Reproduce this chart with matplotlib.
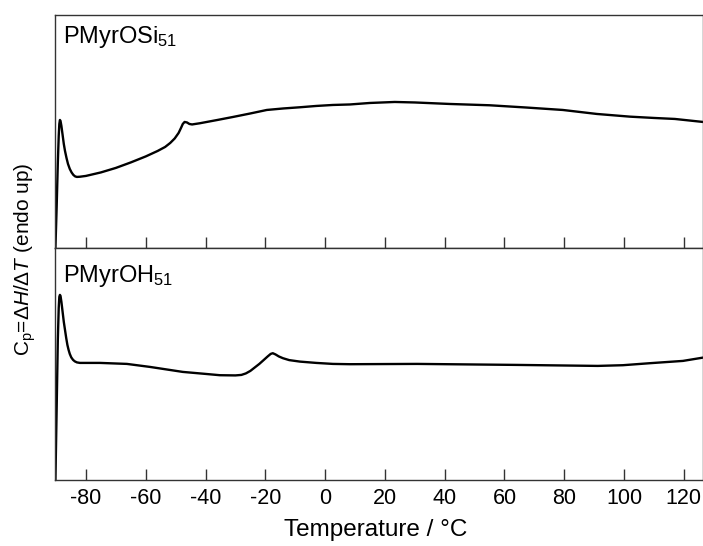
import numpy as np
import matplotlib
matplotlib.use("Agg")
import matplotlib.pyplot as plt

plt.rcParams['font.family'] = ['Liberation Sans', 'DejaVu Sans']
plt.rcParams['mathtext.fontset'] = 'custom'
plt.rcParams['mathtext.rm'] = 'Liberation Sans'
plt.rcParams['mathtext.it'] = 'Liberation Sans:italic'
plt.rcParams['axes.unicode_minus'] = False

# PMyrOSi51 trace (temperature in C, Cp in arbitrary units)
si_temp = [-90.2, -89.8, -89.4, -89.1, -88.9, -88.7, -88.5, -88.2, -87.8, -87.4, -87.0,
           -86.5, -86.0, -85.4, -84.8, -84.2, -83.6, -83.0, -82.0,
           -80.0, -75.0, -70.0, -65.0, -60.0, -56.0, -53.5, -51.8, -50.3, -49.0, -48.2,
           -47.6, -47.0, -46.2, -45.4, -44.5, -41.9, -36.0, -30.8, -25.0, -19.5, -14.0, -8.4, -3.0,
           2.6, 8.3, 15.0, 23.3, 30.0, 41.7, 55.0, 67.0, 79.5, 90.9, 102.0, 110.0,
           117.0, 126.4]
si_cp = [0, 40, 85, 112, 124, 128, 127, 122, 113, 104, 97,
         90, 84, 79, 75.5, 73, 71.5, 71, 71.2,
         72, 75.5, 80, 85.5, 91.5, 97, 101, 105, 109.5, 115, 120,
         124, 126, 125.5, 124, 123.5, 124.7, 128, 131, 134.5, 138, 139.5, 140.7, 142,
         143, 143.5, 145, 146, 145.5, 144, 142.7, 140.5, 138, 134, 131.3, 130,
         129, 126]

# PMyrOH51 trace
oh_temp = [-90.2, -89.8, -89.4, -89.1, -88.9, -88.7, -88.5, -88.2, -87.8, -87.4, -87.0,
           -86.6, -86.2, -85.8, -85.4, -84.9, -84.3, -83.7, -83.0,
           -82.0, -75.3, -66.3, -58.6, -47.6, -40.0, -35.2, -30.0, -28.0, -26.5, -25.0, -23.5,
           -22.0, -20.5, -19.2, -18.2, -17.5, -16.6, -15.5, -14.1, -12.0, -8.4, -3.0, 2.6, 8.3,
           30.7, 64.1, 91.2, 99.6, 108.6, 119.7, 126.4]
oh_cp = [0, 70, 140, 172, 183, 185, 184, 178, 168, 158, 150,
         142, 135, 130, 126, 122.5, 120, 118.5, 117.5,
         117, 117, 116, 113, 108, 106, 104.7, 104.5, 105, 106.5, 109, 112.5,
         116, 120, 123.5, 126, 126.7, 125.5, 123.5, 121.7, 119.8, 118.3, 117, 116, 115.7,
         116, 115, 114, 114.7, 116.7, 119, 122.3]

panel_labels = ['PMyrOSi$_{51}$', 'PMyrOH$_{51}$']
xticks = [-80, -60, -40, -20, 0, 20, 40, 60, 80, 100, 120]

fig = plt.figure(figsize=(7.03, 5.46), dpi=100)
ax_top = fig.add_axes([0.078, 0.546, 0.922, 0.4265])
ax_bot = fig.add_axes([0.078, 0.121, 0.922, 0.425])

for ax, t, cp, lab, ylim in [(ax_top, si_temp, si_cp, panel_labels[0], (0, 233)),
                             (ax_bot, oh_temp, oh_cp, panel_labels[1], (0, 232))]:
    ax.plot(t, cp, color='black', lw=1.7, solid_joinstyle='round')
    ax.set_xlim(-90.4, 126.4)
    ax.set_ylim(*ylim)
    ax.set_yticks([])
    ax.set_xticks(xticks)
    ax.tick_params(axis='x', direction='in', length=8, width=1, colors='#333333',
                   labelsize=15.5, labelcolor='black', pad=6)
    for s in ax.spines.values():
        s.set_linewidth(1.0)
        s.set_color('#333333')
    ax.text(0.012, 0.96 if ax is ax_top else 0.935, lab, transform=ax.transAxes,
            ha='left', va='top', fontsize=17)

ax_top.tick_params(axis='x', labelbottom=False)
fig.text(0.535, 0.019, 'Temperature / °C', ha='center', va='baseline', fontsize=17.5)

fig.text(0.036, 0.526, r'C$_\mathrm{p}$=Δ$H$/Δ$T$ (endo up)', rotation=90,
         ha='center', va='center', fontsize=15)

fig.savefig('out.png', dpi=100)
